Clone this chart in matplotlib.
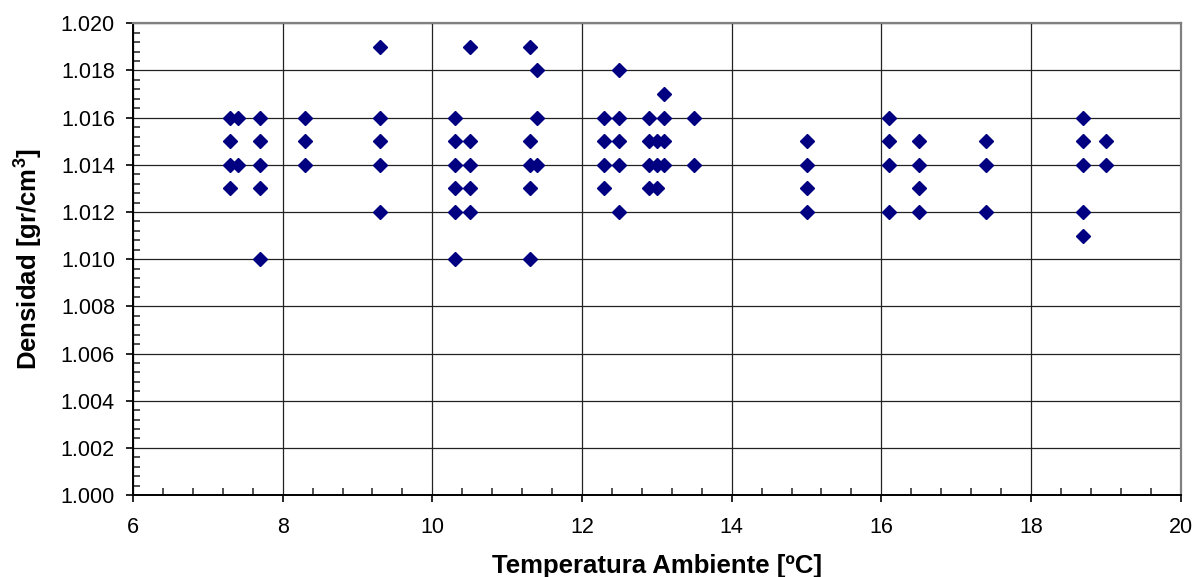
import numpy as np
import matplotlib.pyplot as plt
from matplotlib.ticker import MultipleLocator, FormatStrFormatter

plt.rcParams['font.family'] = ['Liberation Sans', 'DejaVu Sans']
plt.rcParams['mathtext.fontset'] = 'custom'
plt.rcParams['mathtext.rm'] = 'Liberation Sans'
plt.rcParams['mathtext.bf'] = 'Liberation Sans:bold'

# temperatura ambiente de cada grupo de mediciones y densidades leidas
temperaturas = [7.3, 7.4, 7.7, 8.3, 9.3, 10.3, 10.5, 11.3, 11.4, 12.3, 12.5,
                12.9, 13.0, 13.1, 13.5, 15.0, 16.1, 16.5, 17.4, 18.7, 19.0]
densidades = [
    [1.016, 1.015, 1.014, 1.013],
    [1.016, 1.014],
    [1.016, 1.015, 1.014, 1.013, 1.010],
    [1.016, 1.015, 1.014],
    [1.019, 1.016, 1.015, 1.014, 1.012],
    [1.016, 1.015, 1.014, 1.013, 1.012, 1.010],
    [1.019, 1.015, 1.014, 1.013, 1.012],
    [1.019, 1.015, 1.014, 1.013, 1.010],
    [1.018, 1.016, 1.014],
    [1.016, 1.015, 1.014, 1.013],
    [1.018, 1.016, 1.015, 1.014, 1.012],
    [1.016, 1.015, 1.014, 1.013],
    [1.015, 1.014, 1.013],
    [1.017, 1.016, 1.015, 1.014],
    [1.016, 1.014],
    [1.015, 1.014, 1.013, 1.012],
    [1.016, 1.015, 1.014, 1.012],
    [1.015, 1.014, 1.013, 1.012],
    [1.015, 1.014, 1.012],
    [1.016, 1.015, 1.014, 1.012, 1.011],
    [1.015, 1.014],
]

x = []
y = []
for t, ds in zip(temperaturas, densidades):
    for d in ds:
        x.append(t)
        y.append(d)

fig = plt.figure(figsize=(11.96, 5.77), dpi=100)
ax = fig.add_axes([0.1112, 0.142, 0.876, 0.8176])

ax.plot(x, y, linestyle='none', marker='D', markersize=7,
        color='#000080', zorder=3)

ax.set_xlim(6, 20)
ax.set_ylim(1.000, 1.020)
ax.xaxis.set_major_locator(MultipleLocator(2))
ax.xaxis.set_minor_locator(MultipleLocator(0.4))
ax.yaxis.set_major_locator(MultipleLocator(0.002))
ax.yaxis.set_minor_locator(MultipleLocator(0.0004))
ax.yaxis.set_major_formatter(FormatStrFormatter('%.3f'))

ax.grid(True, which='major', color='#222222', linewidth=0.9)
ax.set_axisbelow(True)

ax.tick_params(which='major', direction='out', length=5, width=1.2,
               labelsize=15.5, color='black')
ax.tick_params(axis='x', which='major', pad=11)
ax.tick_params(axis='y', which='major', pad=8)
ax.tick_params(which='minor', direction='in', length=5, width=1.2,
               color='#333333')

for s in ['top', 'right']:
    ax.spines[s].set_color('#808080')
    ax.spines[s].set_linewidth(1.6)
for s in ['left', 'bottom']:
    ax.spines[s].set_color('black')
    ax.spines[s].set_linewidth(1.4)

ax.set_xlabel('Temperatura Ambiente [ºC]', fontsize=18.5, fontweight='bold',
              labelpad=11)
ax.set_ylabel(r'Densidad [gr/cm$^{\mathbf{3}}$]', fontsize=18.5,
              fontweight='bold', labelpad=12)

fig.savefig('out.png', dpi=100)
